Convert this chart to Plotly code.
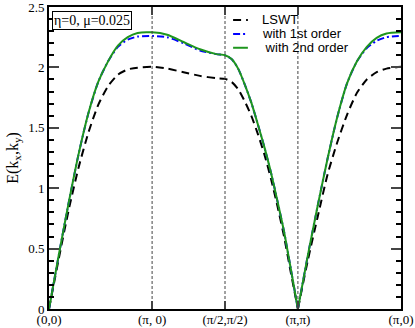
import plotly.graph_objects as go

# path coordinate along (0,0)->(pi,0)->(pi/2,pi/2)->(pi,pi)->(pi,0)
k_path = [0.0, 0.3, 0.6, 0.9, 1.2, 1.5, 1.8, 2.1, 2.4, 2.7, 3.1416,
          3.6, 4.1, 4.6, 5.1, 5.363,
          5.563, 5.763, 5.963, 6.163, 6.363, 6.563, 6.763, 6.963, 7.163, 7.363, 7.5845,
          7.8845, 8.1845, 8.4845, 8.7845, 9.0845, 9.3845, 9.6845, 9.9845, 10.2845, 10.7261]
lswt = [0.0, 0.42, 0.82, 1.17, 1.46, 1.69, 1.845, 1.94, 1.983, 1.998, 2.005,
        1.99, 1.96, 1.93, 1.91, 1.905,
        1.88, 1.82, 1.72, 1.60, 1.45, 1.28, 1.08, 0.85, 0.60, 0.31, 0.0,
        0.40, 0.76, 1.11, 1.38, 1.61, 1.79, 1.90, 1.96, 1.99, 2.005]
first = [0.0, 0.45, 0.88, 1.28, 1.62, 1.88, 2.05, 2.17, 2.23, 2.255, 2.26,
         2.25, 2.20, 2.14, 2.11, 2.10,
         2.07, 1.99, 1.86, 1.71, 1.53, 1.34, 1.13, 0.89, 0.64, 0.34, 0.0,
         0.44, 0.85, 1.24, 1.59, 1.87, 2.05, 2.16, 2.22, 2.25, 2.26]
second = [0.0, 0.45, 0.88, 1.28, 1.62, 1.88, 2.05, 2.18, 2.25, 2.285, 2.29,
          2.27, 2.21, 2.15, 2.11, 2.10,
          2.07, 1.99, 1.86, 1.71, 1.53, 1.34, 1.13, 0.89, 0.64, 0.34, 0.0,
          0.44, 0.85, 1.24, 1.59, 1.87, 2.05, 2.17, 2.245, 2.28, 2.29]
sym_pos = [0.0, 3.1416, 5.363, 7.5845, 10.7261]
sym_lab = ["(0,0)", "(\u03c0, 0)", "(\u03c0/2,\u03c0/2)", "(\u03c0,\u03c0)", "(\u03c0,0)"]
names = ["LSWT", "with 1st order", " with 2nd order"]

fig = go.Figure()
cut = k_path.index(7.5845)
lines = [dict(color="black", width=2, dash="8px,5px"),
         dict(color="blue", width=2, dash="7px,3px,2px,3px"),
         dict(color="rgb(30,150,30)", width=2)]
for name, ys, ln in zip(names, [lswt, first, second], lines):
    for a, b in [(0, cut + 1), (cut, len(k_path))]:
        fig.add_trace(go.Scatter(x=k_path[a:b], y=ys[a:b], mode="lines", name=name,
                                 showlegend=False,
                                 line=dict(shape="spline", smoothing=0.6, **ln)))

for p in sym_pos[1:4]:
    fig.add_vline(x=p, line=dict(color="#444", width=1, dash="3px,2px"))

# legend drawn by hand (compact rows like the original)
for i, (name, ln) in enumerate(zip(names, lines)):
    yy = 0.957 - i * 0.046
    fig.add_shape(type="line", xref="paper", yref="paper", x0=0.523, x1=0.565, y0=yy, y1=yy,
                  line=ln)
    fig.add_annotation(x=0.6, y=yy, xref="paper", yref="paper", xanchor="left", yanchor="middle",
                       text=name, showarrow=False,
                       font=dict(family="Liberation Sans", size=13, color="black"))

fig.add_annotation(x=0.008, y=0.988, xref="paper", yref="paper", xanchor="left", yanchor="top",
                   text="\u03b7=0, \u03bc=0.025", showarrow=False,
                   font=dict(family="Liberation Serif", size=14, color="black"),
                   bordercolor="black", borderwidth=1, borderpad=1, bgcolor="white")

fig.update_layout(
    width=415, height=328, margin=dict(l=49, r=14, t=7, b=19),
    plot_bgcolor="white", paper_bgcolor="white",
    font=dict(family="Liberation Serif", size=13, color="black"),
    showlegend=False,
)
fig.update_xaxes(range=[0, 10.7261], tickvals=sym_pos, ticktext=sym_lab, ticks="inside",
                 ticklen=8, tickwidth=2, showline=True, linewidth=2, linecolor="black",
                 mirror="ticks", showgrid=False, zeroline=False, automargin=False,
                 ticklabelstandoff=-3, ticklabeloverflow="allow")
fig.update_yaxes(range=[0, 2.5], tickvals=[0, 0.5, 1, 1.5, 2, 2.5],
                 ticktext=["0", "0.5", "1", "1.5", "2", "2.5"], ticks="inside",
                 ticklen=10, tickwidth=2, showline=True, linewidth=2, linecolor="black",
                 mirror="ticks", showgrid=False, zeroline=False, automargin=False,
                 ticklabeloverflow="allow",
                 minor=dict(dtick=0.1, ticks="inside", ticklen=5, tickwidth=2, tickcolor="black"),
                 title=dict(text="E(k<sub>x</sub>,k<sub>y</sub>)", font=dict(size=16), standoff=6))
fig.write_html("out.html", config={"displayModeBar": False},
               post_script="document.body.style.margin='0';")
